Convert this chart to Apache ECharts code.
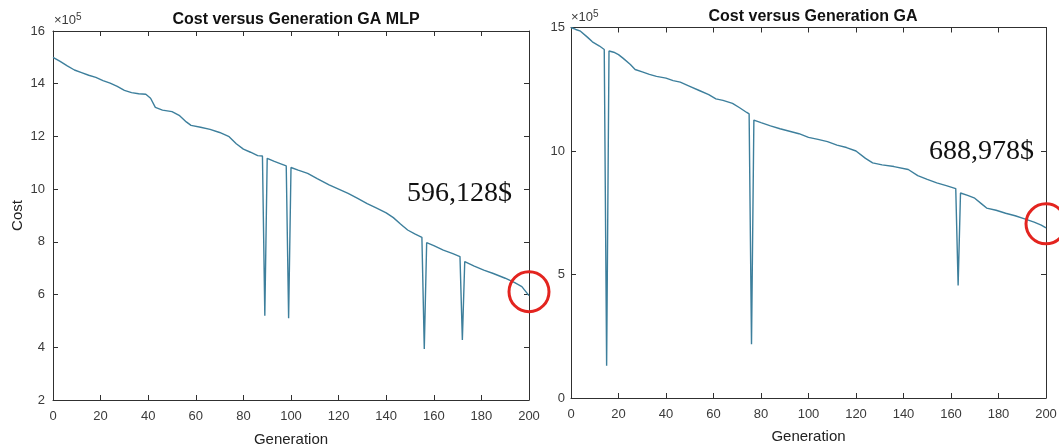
<!DOCTYPE html>
<html>
<head>
<meta charset="utf-8">
<script src="https://cdn.jsdelivr.net/npm/echarts@6/dist/echarts.min.js"></script>
<style>
  html, body { margin: 0; padding: 0; background: #fff; }
  #chart { width: 1059px; height: 448px; }
</style>
</head>
<body>
<div id="chart"></div>
<script>
// cost in units of 1e5
var genMLP = [0, 3, 6, 9, 12, 15, 18, 21, 24, 27, 30, 33, 36, 39, 41, 43, 46, 50, 53, 56, 58, 62, 66, 70, 74, 77, 80, 83, 86, 88, 89, 90, 93, 96, 98, 99, 100, 103, 107, 111, 116, 120, 124, 128, 132, 136, 140, 143, 146, 149, 152, 155, 156, 157, 160, 164, 168, 171, 172, 173, 177, 181, 185, 190, 194, 197, 200];
var costMLP = [15.0, 14.85, 14.68, 14.52, 14.42, 14.32, 14.24, 14.12, 14.02, 13.9, 13.75, 13.66, 13.62, 13.6, 13.45, 13.1, 13.0, 12.94, 12.8, 12.55, 12.42, 12.35, 12.27, 12.15, 11.99, 11.72, 11.52, 11.4, 11.27, 11.26, 5.2, 11.17, 11.05, 10.95, 10.88, 5.1, 10.82, 10.72, 10.6, 10.4, 10.16, 10.0, 9.84, 9.65, 9.45, 9.28, 9.1, 8.92, 8.68, 8.45, 8.3, 8.17, 3.94, 7.97, 7.86, 7.69, 7.55, 7.44, 4.28, 7.25, 7.08, 6.93, 6.8, 6.62, 6.45, 6.3, 5.96];

var genGA = [0, 2, 4, 7, 9, 12, 14, 15, 16, 18, 20, 22, 25, 27, 30, 33, 36, 40, 43, 46, 50, 54, 58, 61, 64, 68, 71, 74, 75, 76, 77, 80, 84, 88, 92, 96, 100, 104, 108, 112, 116, 120, 124, 127, 131, 136, 142, 146, 150, 154, 158, 162, 163, 164, 167, 170, 173, 175, 179, 183, 187, 191, 195, 198, 200];
var costGA = [15.0, 14.92, 14.85, 14.6, 14.42, 14.25, 14.11, 1.31, 14.05, 14.0, 13.9, 13.75, 13.5, 13.3, 13.2, 13.1, 13.02, 12.95, 12.85, 12.79, 12.62, 12.45, 12.28, 12.11, 12.05, 11.93, 11.75, 11.56, 11.5, 2.18, 11.25, 11.15, 11.02, 10.9, 10.8, 10.7, 10.55, 10.47, 10.38, 10.24, 10.14, 10.0, 9.7, 9.52, 9.44, 9.37, 9.25, 9.0, 8.85, 8.71, 8.6, 8.48, 4.56, 8.3, 8.2, 8.09, 7.85, 7.69, 7.6, 7.48, 7.38, 7.25, 7.12, 7.0, 6.89];

var titles = ['Cost versus Generation GA MLP', 'Cost versus Generation GA'];
var finalCosts = ['596,128$', '688,978$'];

function pairs(xs, ys) {
  var out = [];
  for (var i = 0; i < xs.length; i++) out.push([xs[i], ys[i]]);
  return out;
}

var axisCol = '#303030';
var labelStyle = { color: '#3a3a3a', fontSize: 13, fontFamily: 'Liberation Sans, Arial, sans-serif' };

function xAx(grid, pos, gap) {
  return {
    gridIndex: grid, type: 'value', position: pos, min: 0, max: 200, interval: 20,
    axisLine: { onZero: false, lineStyle: { color: axisCol, width: 1 } },
    axisTick: { inside: true, length: 5, lineStyle: { color: axisCol } },
    axisLabel: Object.assign({ show: pos === 'bottom', margin: 10 }, labelStyle),
    splitLine: { show: false },
    name: pos === 'bottom' ? 'Generation' : '',
    nameLocation: 'middle', nameGap: gap,
    nameTextStyle: { color: '#222', fontSize: 15, fontFamily: 'Liberation Sans, Arial, sans-serif' }
  };
}

function yAx(grid, pos, min, max, step, name) {
  return {
    gridIndex: grid, type: 'value', position: pos, min: min, max: max, interval: step,
    axisLine: { onZero: false, lineStyle: { color: axisCol, width: 1 } },
    axisTick: { inside: true, length: 5, lineStyle: { color: axisCol } },
    axisLabel: Object.assign({ show: pos === 'left', margin: grid === 0 ? 8 : 6 }, labelStyle),
    splitLine: { show: false },
    name: pos === 'left' ? name : '',
    nameLocation: 'middle', nameGap: 28,
    nameTextStyle: { color: '#222', fontSize: 15, fontFamily: 'Liberation Sans, Arial, sans-serif' }
  };
}

function circleMark(x, y) {
  return {
    symbol: 'circle', symbolSize: 40, symbolOffset: [0, -4],
    label: { show: false },
    itemStyle: { color: 'rgba(0,0,0,0)', borderColor: '#e3241f', borderWidth: 3 },
    data: [{ coord: [x, y] }]
  };
}

var chart = echarts.init(document.getElementById('chart'));
chart.setOption({
  animation: false,
  backgroundColor: '#fff',
  title: [
    { text: titles[0], left: 291, top: 7, textAlign: 'center',
      textStyle: { fontSize: 16, fontWeight: 'bold', color: '#111', fontFamily: 'Liberation Sans, Arial, sans-serif' } },
    { text: titles[1], left: 808, top: 4, textAlign: 'center',
      textStyle: { fontSize: 16, fontWeight: 'bold', color: '#111', fontFamily: 'Liberation Sans, Arial, sans-serif' } }
  ],
  grid: [
    { left: 53, right: 530, top: 31, bottom: 48, outerBoundsMode: 'none' },
    { left: 571, right: 13, top: 27.5, bottom: 50, outerBoundsMode: 'none' }
  ],
  xAxis: [xAx(0, 'bottom', 32), xAx(0, 'top', 0), xAx(1, 'bottom', 31), xAx(1, 'top', 0)],
  yAxis: [yAx(0, 'left', 2, 16, 2, 'Cost'), yAx(0, 'right', 2, 16, 2, ''),
          yAx(1, 'left', 0, 15, 5, ''), yAx(1, 'right', 0, 15, 5, '')],
  series: [
    {
      type: 'line', xAxisIndex: 0, yAxisIndex: 0, showSymbol: false,
      data: pairs(genMLP, costMLP),
      lineStyle: { color: '#3d7f9c', width: 1.4 },
      markPoint: circleMark(genMLP[genMLP.length - 1], costMLP[costMLP.length - 1])
    },
    {
      type: 'line', xAxisIndex: 2, yAxisIndex: 2, showSymbol: false,
      data: pairs(genGA, costGA),
      lineStyle: { color: '#3d7f9c', width: 1.4 },
      markPoint: circleMark(genGA[genGA.length - 1], costGA[costGA.length - 1])
    }
  ],
  graphic: [
    { type: 'text', left: 54, top: 12,
      style: { text: '×10{s|5}', fill: '#3a3a3a', font: '13px Liberation Sans, Arial, sans-serif',
               rich: { s: { fontSize: 10, verticalAlign: 'top', padding: [0, 0, 6, 0] } } } },
    { type: 'text', left: 571, top: 9,
      style: { text: '×10{s|5}', fill: '#3a3a3a', font: '13px Liberation Sans, Arial, sans-serif',
               rich: { s: { fontSize: 10, verticalAlign: 'top', padding: [0, 0, 6, 0] } } } },
    { type: 'text', left: 407, top: 180,
      style: { text: finalCosts[0], fill: '#111', font: '28px Liberation Serif, Times New Roman, serif' } },
    { type: 'text', left: 929, top: 138,
      style: { text: finalCosts[1], fill: '#111', font: '28px Liberation Serif, Times New Roman, serif' } }
  ]
});
</script>
</body>
</html>
